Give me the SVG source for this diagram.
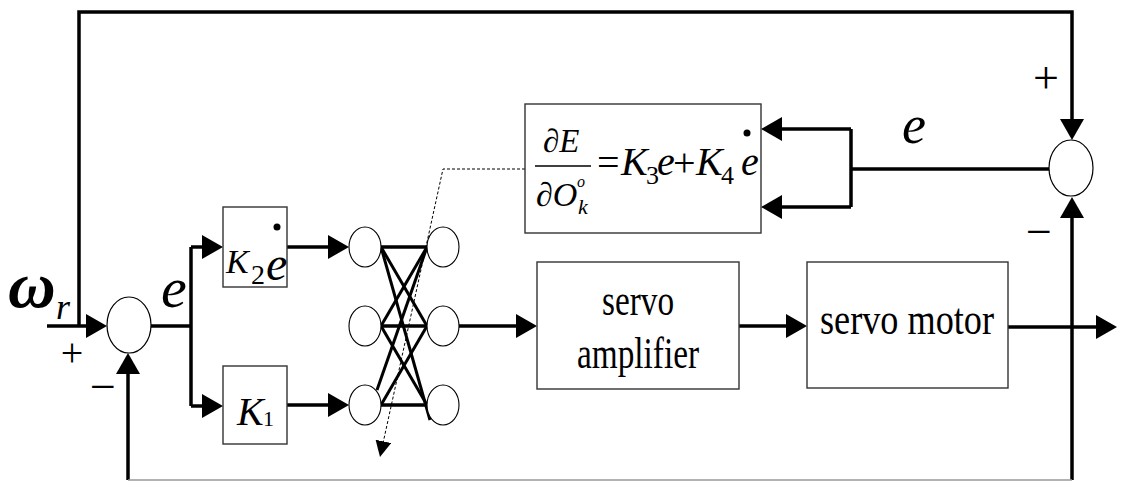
<svg xmlns="http://www.w3.org/2000/svg" width="1124" height="481" viewBox="0 0 1124 481">
<style>
.bx{fill:#fff;stroke:#333;stroke-width:1.4}
.sum{fill:#fff;stroke:#000;stroke-width:1.2}
.nr{fill:#fff;stroke:#000;stroke-width:1.1}
.w{fill:none;stroke:#000;stroke-width:3.5}
.wn{fill:none;stroke:#000;stroke-width:3}
text{font-family:'Liberation Serif','DejaVu Serif',serif;fill:#000}
.i{font-style:italic}
</style>
<defs>
<marker id="a" markerUnits="userSpaceOnUse" markerWidth="21" markerHeight="24" refX="10" refY="12" orient="auto">
<path d="M0,0 L21,12 L0,24 z" fill="#000"/>
</marker>
<marker id="s" markerUnits="userSpaceOnUse" markerWidth="16" markerHeight="16" refX="8" refY="8" orient="auto">
<path d="M0,0 L16,8 L0,16 z" fill="#000"/>
</marker>
</defs>
<rect width="1124" height="481" fill="#fff"/>

<g id="connectors">
<path class="w" d="M47,326 H96" marker-end="url(#a)"/>
<path class="w" d="M79,326 V12 H1072 V129" marker-end="url(#a)"/>
<path class="w" d="M151,326 H191"/>
<path class="w" d="M191,247 V406"/>
<path class="w" d="M191,247 H212" marker-end="url(#a)"/>
<path class="w" d="M191,406 H212" marker-end="url(#a)"/>
<path class="w" d="M287,247 H338" marker-end="url(#a)"/>
<path class="w" d="M287,405 H338" marker-end="url(#a)"/>
<path class="w" d="M459,326 H526" marker-end="url(#a)"/>
<path class="w" d="M739,326 H796" marker-end="url(#a)"/>
<path class="w" d="M1008,327 H1106" marker-end="url(#a)"/>
<path class="w" d="M1072,480 V208" marker-end="url(#a)"/>
<path class="w" d="M128,480 V364" marker-end="url(#a)"/>
<path d="M128,480 H1072" fill="none" stroke="#999" stroke-width="1.5"/>
<path class="w" d="M1050,169 H851"/>
<path class="w" d="M851,129 V207"/>
<path class="w" d="M851,129 H772" marker-end="url(#a)"/>
<path class="w" d="M851,207 H772" marker-end="url(#a)"/>
<path d="M525,169 H443 L381.7,449.2" fill="none" stroke="#000" stroke-width="1" stroke-dasharray="3,2" marker-end="url(#s)"/>
<g class="wn">
<line x1="381" y1="247" x2="427" y2="247"/>
<line x1="381" y1="247" x2="427" y2="326"/>
<line x1="381" y1="247" x2="430" y2="420"/>
<line x1="427" y1="247" x2="381" y2="326"/>
<line x1="427" y1="247" x2="377" y2="390"/>
<line x1="381" y1="326" x2="427" y2="326"/>
<line x1="381" y1="326" x2="427" y2="405"/>
<line x1="427" y1="326" x2="381" y2="405"/>
<line x1="381" y1="405" x2="427" y2="405"/>
</g>
</g>

<g id="labels">
<text class="i" x="8" y="307" font-size="66" font-weight="bold">ω</text>
<text class="i" x="56" y="319" font-size="36">r</text>
<text x="72" y="366" font-size="40" text-anchor="middle">+</text>
<text x="103" y="402" font-size="46" text-anchor="middle">−</text>
<text class="i" x="161" y="307" font-size="58">e</text>
<text class="i" x="902" y="143" font-size="54">e</text>
<text x="1046" y="93" font-size="46" text-anchor="middle">+</text>
<text x="1039" y="247" font-size="46" text-anchor="middle">−</text>
</g>

<g id="sum1"><ellipse class="sum" cx="129" cy="325" rx="22" ry="28"/></g>
<g id="sum2"><ellipse class="sum" cx="1071" cy="168" rx="22" ry="28"/></g>

<g id="k2">
<rect class="bx" x="223" y="207" width="64" height="80"/>
<text class="i" x="226" y="273" font-size="34">K</text>
<text x="251" y="284" font-size="28">2</text>
<text class="i" x="266" y="280" font-size="48">e</text>
<circle cx="277" cy="227" r="3.5" fill="#000"/>
</g>

<g id="k1">
<rect class="bx" x="223" y="366" width="64" height="78"/>
<text class="i" x="237" y="425" font-size="40">K</text>
<text x="263" y="426" font-size="22">1</text>
</g>

<g id="neurons">
<ellipse class="nr" cx="365" cy="247" rx="16" ry="20"/>
<ellipse class="nr" cx="365" cy="326" rx="16" ry="20"/>
<ellipse class="nr" cx="365" cy="405" rx="16" ry="20"/>
<ellipse class="nr" cx="443" cy="247" rx="16" ry="20"/>
<ellipse class="nr" cx="443" cy="326" rx="16" ry="20"/>
<ellipse class="nr" cx="443" cy="405" rx="16" ry="20"/>
</g>
<g id="nn-lines-over" class="wn">
<line x1="381" y1="247" x2="427" y2="247"/>
<line x1="381" y1="326" x2="427" y2="326"/>
<line x1="381" y1="405" x2="427" y2="405"/>
</g>

<g id="formula">
<rect class="bx" x="525" y="104" width="236" height="129"/>
<text class="i" x="543" y="152" font-size="33">∂E</text>
<line x1="535" y1="166" x2="591" y2="166" stroke="#000" stroke-width="1.5"/>
<text class="i" x="536" y="206" font-size="34">∂O</text>
<text class="i" x="577" y="187" font-size="16">o</text>
<text class="i" x="578" y="214" font-size="22">k</text>
<text x="597" y="176" font-size="40">=</text>
<text class="i" x="621" y="175" font-size="40">K</text>
<text x="646" y="184" font-size="26">3</text>
<text class="i" x="657" y="175" font-size="40">e</text>
<text x="673" y="176" font-size="40">+</text>
<text class="i" x="696" y="175" font-size="40">K</text>
<text x="721" y="184" font-size="26">4</text>
<text class="i" x="741" y="175" font-size="40">e</text>
<circle cx="747" cy="133" r="3.5" fill="#000"/>
</g>

<g id="amplifier">
<rect class="bx" x="537" y="262" width="202" height="127"/>
<text x="602" y="315" font-size="44" textLength="72" lengthAdjust="spacingAndGlyphs">servo</text>
<text x="577" y="368" font-size="44" textLength="122" lengthAdjust="spacingAndGlyphs">amplifier</text>
</g>

<g id="motor">
<rect class="bx" x="807" y="262" width="201" height="126"/>
<text x="820" y="334" font-size="44" textLength="174" lengthAdjust="spacingAndGlyphs">servo motor</text>
</g>
</svg>
